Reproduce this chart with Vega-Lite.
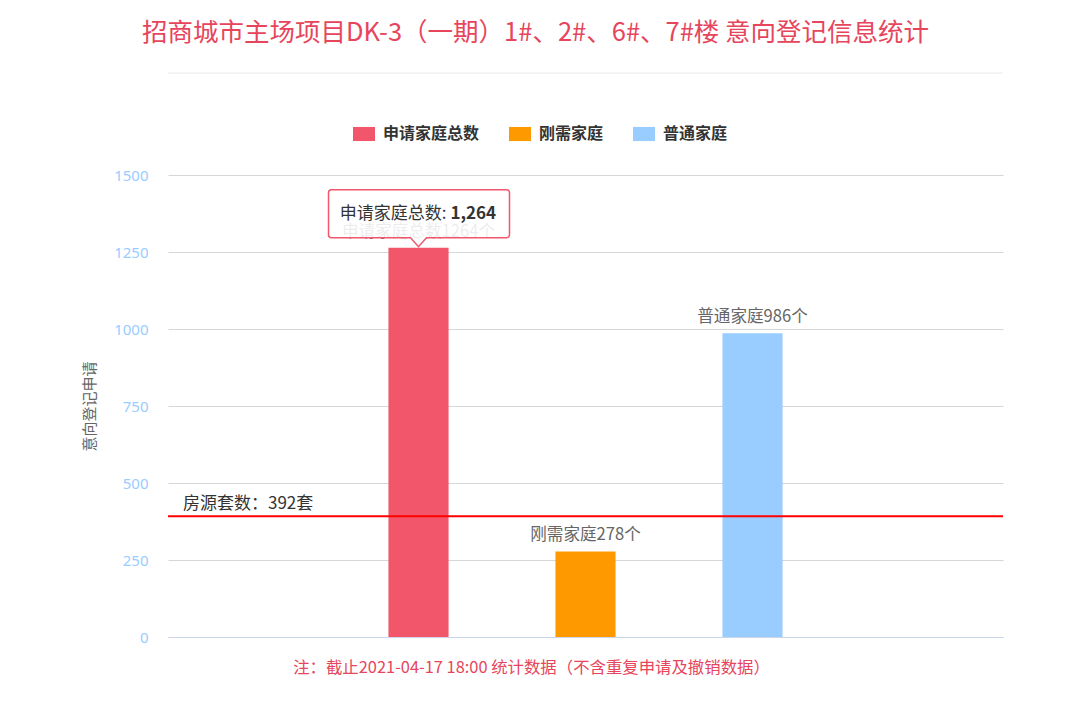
{
  "$schema": "https://vega.github.io/schema/vega-lite/v6.json",
  "width": 835,
  "height": 462,
  "padding": {"left": 82, "top": 21, "right": 20, "bottom": 10},
  "background": "#ffffff",
  "title": {
    "text": "招商城市主场项目DK-3（一期）1#、2#、6#、7#楼 意向登记信息统计",
    "fontSize": 25.5,
    "font": "Noto Sans CJK SC",
    "fontWeight": "normal",
    "color": "#e6455c",
    "anchor": "middle",
    "frame": "group",
    "dx": -50,
    "offset": 26
  },
  "config": {
    "view": {"stroke": null},
    "font": "Noto Sans CJK SC"
  },
  "data": {
    "values": [
      {"cat": "申请家庭总数", "value": 1264, "label": "申请家庭总数1264个"},
      {"cat": "刚需家庭", "value": 278, "label": "刚需家庭278个"},
      {"cat": "普通家庭", "value": 986, "label": "普通家庭986个"}
    ]
  },
  "encoding": {
    "x": {
      "field": "cat",
      "type": "nominal",
      "sort": null,
      "scale": {"domain": ["左", "申请家庭总数", "刚需家庭", "普通家庭", "右"], "paddingInner": 0, "paddingOuter": 0},
      "axis": {"title": null, "labels": false, "ticks": false, "grid": false, "domainColor": "#ccd6eb", "domainWidth": 1}
    },
    "y": {
      "field": "value",
      "type": "quantitative",
      "scale": {"domain": [0, 1500], "nice": false},
      "axis": {
        "values": [0, 250, 500, 750, 1000, 1250, 1500],
        "format": "d",
        "title": "意向登记申请",
        "titleColor": "#666666",
        "titleFontSize": 15,
        "titleFontWeight": "normal",
        "titleFont": "Noto Sans CJK SC",
        "titlePadding": 16,
        "labelColor": "#99ccff",
        "labelFontSize": 15,
        "labelFont": "Noto Sans",
        "labelPadding": 20,
        "ticks": false,
        "domain": false,
        "gridColor": "#d6d6d6",
        "gridWidth": 1
      }
    }
  },
  "layer": [
    {
      "mark": {"type": "bar", "width": {"band": 0.36}},
      "encoding": {
        "color": {
          "field": "cat",
          "type": "nominal",
          "scale": {"domain": ["申请家庭总数", "刚需家庭", "普通家庭"], "range": ["#f2566b", "#ff9900", "#99ccff"]},
          "legend": {
            "orient": "none",
            "legendX": 185,
            "legendY": -52,
            "direction": "horizontal",
            "title": null,
            "symbolType": "M-1,-0.64H1V0.64H-1Z",
            "symbolSize": 484,
            "symbolStrokeWidth": 0,
            "labelFontSize": 16,
            "labelFontWeight": "bold",
            "labelColor": "#333333",
            "labelFont": "Noto Sans CJK SC",
            "labelOffset": 8,
            "columnPadding": 29
          }
        }
      }
    },
    {
      "mark": {"type": "text", "baseline": "bottom", "dy": -8, "fontSize": 16.6, "color": "#666666", "font": "Noto Sans CJK SC"},
      "encoding": {
        "text": {"field": "label"}
      }
    },
    {
      "data": {"values": [{"value": 392, "t": "房源套数：392套", "cat": "左"}]},
      "layer": [
        {
          "mark": {"type": "rule", "color": "#ff0000", "strokeWidth": 2},
          "encoding": {"x": null}
        },
        {
          "mark": {"type": "text", "align": "left", "baseline": "bottom", "dx": 15, "dy": -3, "fontSize": 17, "color": "#333333", "font": "Noto Sans CJK SC"},
          "encoding": {
            "x": {"field": "cat", "type": "nominal", "bandPosition": 0},
            "text": {"field": "t"}
          }
        }
      ]
    },
    {
      "transform": [{"filter": "datum.cat === '申请家庭总数'"}],
      "layer": [
        {
          "mark": {
            "type": "point",
            "filled": true,
            "fill": "#ffffff",
            "fillOpacity": 0.88,
            "stroke": "#f2566b",
            "strokeWidth": 1.5,
            "strokeOpacity": 1,
            "opacity": 1,
            "size": 400,
            "shape": "M-9,-5.5Q-9,-5.8 -8.7,-5.8L8.8,-5.8Q9.1,-5.8 9.1,-5.5L9.1,-1.3Q9.1,-1 8.8,-1L0.8,-1L0,-0.1L-0.8,-1L-8.7,-1Q-9,-1 -9,-1.3Z"
          },
          "encoding": {}
        },
        {
          "mark": {"type": "text", "align": "right", "baseline": "middle", "dx": 28, "dy": -34, "fontSize": 17, "color": "#333333", "font": "Noto Sans CJK SC"},
          "encoding": {
            "text": {"value": "申请家庭总数:"}
          }
        },
        {
          "mark": {"type": "text", "align": "left", "baseline": "middle", "dx": 32, "dy": -34, "fontSize": 17, "fontWeight": "bold", "color": "#333333", "font": "Noto Sans CJK SC"},
          "encoding": {
            "text": {"value": "1,264"}
          }
        }
      ]
    },
    {
      "data": {"values": [{"value": -100, "cat": "刚需家庭", "t": "注：截止2021-04-17 18:00 统计数据（不含重复申请及撤销数据）"}]},
      "mark": {"type": "text", "align": "center", "baseline": "middle", "dx": -54, "fontSize": 16.4, "color": "#e6455c", "font": "Noto Sans CJK SC"},
      "encoding": {
        "text": {"field": "t"}
      }
    },
    {
      "data": {"values": [{"value": 1831}]},
      "mark": {"type": "rule", "color": "#e8e8e8", "strokeWidth": 1},
      "encoding": {"x": null}
    }
  ]
}
